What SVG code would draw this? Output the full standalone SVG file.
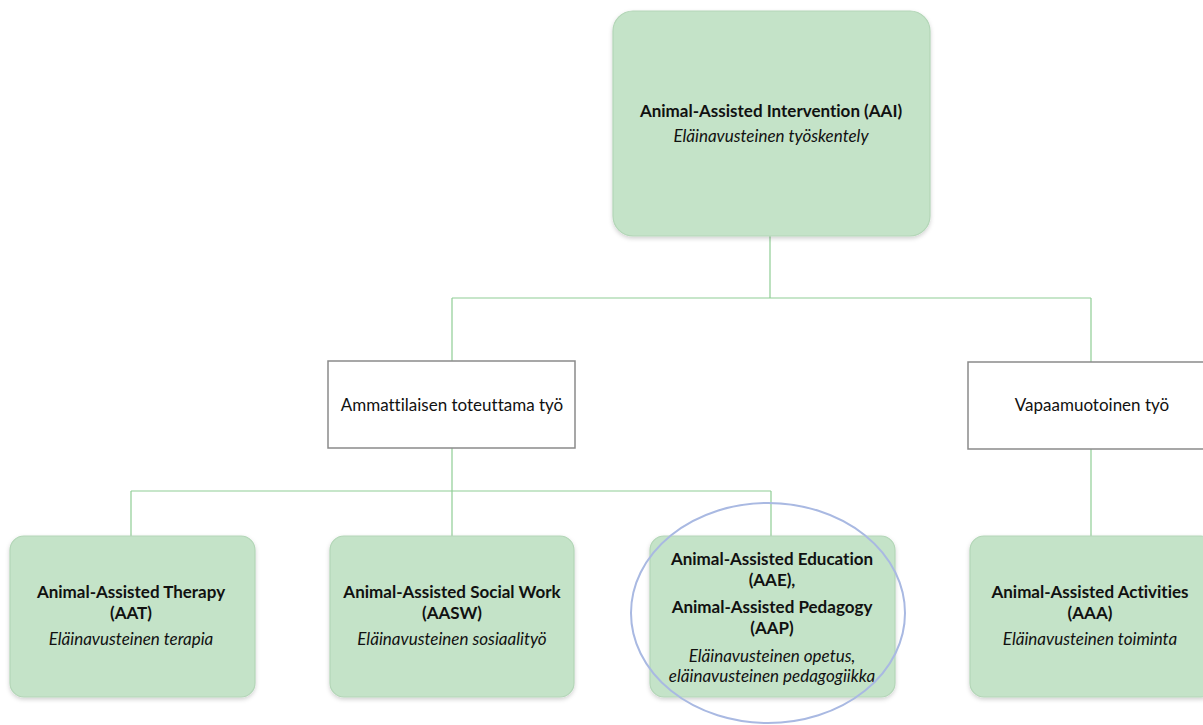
<svg xmlns="http://www.w3.org/2000/svg" width="1203" height="725" viewBox="0 0 1203 725">
<style>
.g{fill:#c4e3c8;stroke:#b3d6b7;stroke-width:1.2;filter:url(#sh)}
.w{fill:#ffffff;stroke:#8a8a8a;stroke-width:1.5}
.c{stroke:#8fce95;stroke-width:1.2;fill:none}
text{font-family:Lato,"Liberation Sans",sans-serif;font-size:17px;fill:#111;text-anchor:middle;font-variant-ligatures:none}
.b{font-weight:bold}
.i{font-style:italic}
</style>
<defs>
<filter id="sh" x="-10%" y="-10%" width="120%" height="125%">
<feDropShadow dx="0" dy="2" stdDeviation="2" flood-color="#000" flood-opacity="0.18"/>
</filter>
</defs>
<g id="connectors">
<path class="c" d="M770 236V298M452 298H1091M452 298V361M1091 298V362"/>
<path class="c" d="M452 448V536M131 491H771M131 491V536M771 491V536"/>
<path class="c" d="M1091 449V536"/>
</g>
<g id="aai">
<rect class="g" x="613" y="11" width="317" height="225" rx="20"/>
<text class="b" x="771" y="117">Animal-Assisted Intervention (AAI)</text>
<text class="i" x="771" y="142">Eläinavusteinen työskentely</text>
</g>
<g id="ammattilainen">
<rect class="w" x="328" y="361" width="247" height="87"/>
<text x="452" y="411">Ammattilaisen toteuttama työ</text>
</g>
<g id="vapaamuotoinen">
<rect class="w" x="968" y="362" width="240" height="87"/>
<text x="1092" y="411">Vapaamuotoinen työ</text>
</g>
<g id="aat">
<rect class="g" x="10" y="536" width="245" height="161" rx="14"/>
<text class="b" x="131" y="598">Animal-Assisted Therapy</text>
<text class="b" x="131" y="619">(AAT)</text>
<text class="i" x="131" y="645">Eläinavusteinen terapia</text>
</g>
<g id="aasw">
<rect class="g" x="330" y="536" width="244" height="161" rx="14"/>
<text class="b" x="452" y="598">Animal-Assisted Social Work</text>
<text class="b" x="452" y="619">(AASW)</text>
<text class="i" x="452" y="645">Eläinavusteinen sosiaalityö</text>
</g>
<g id="aae">
<rect class="g" x="650" y="536" width="245" height="161" rx="14"/>
<text class="b" x="772" y="565">Animal-Assisted Education</text>
<text class="b" x="772" y="586">(AAE),</text>
<text class="b" x="772" y="613">Animal-Assisted Pedagogy</text>
<text class="b" x="772" y="634">(AAP)</text>
<text class="i" x="772" y="662">Eläinavusteinen opetus,</text>
<text class="i" x="772" y="682">eläinavusteinen pedagogiikka</text>
</g>
<g id="aaa">
<rect class="g" x="970" y="536" width="245" height="161" rx="14"/>
<text class="b" x="1090" y="598">Animal-Assisted Activities</text>
<text class="b" x="1090" y="619">(AAA)</text>
<text class="i" x="1090" y="645">Eläinavusteinen toiminta</text>
</g>
<g id="highlight">
<ellipse cx="768" cy="613" rx="137" ry="110" fill="none" stroke="#a9b9e2" stroke-width="2"/>
</g>
</svg>
